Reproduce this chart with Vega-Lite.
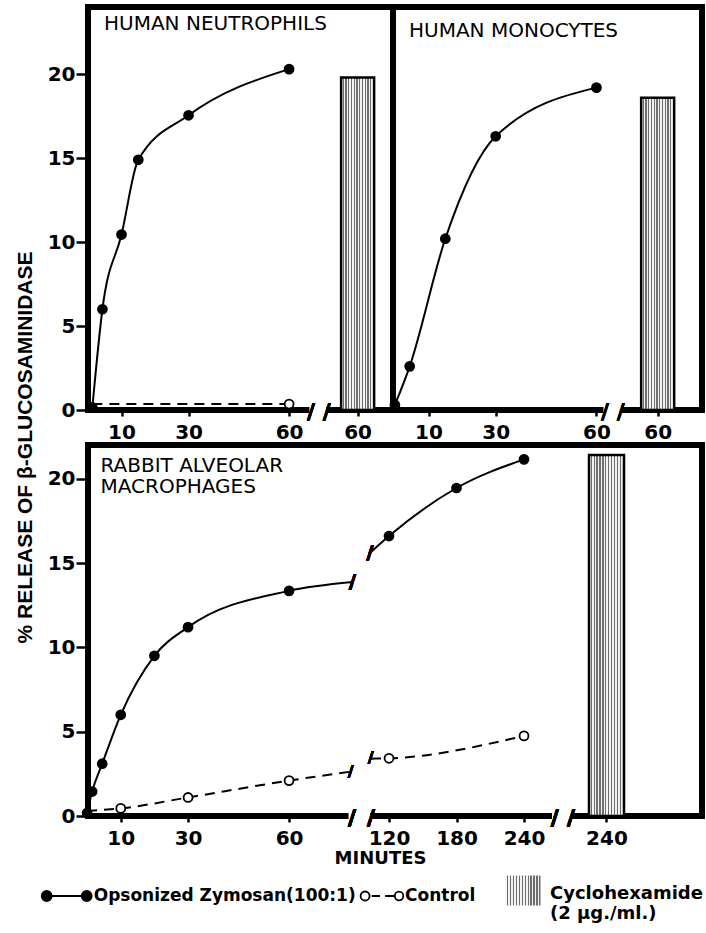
{
  "$schema": "https://vega.github.io/schema/vega-lite/v6.json",
  "padding": {"left": 11, "top": 1, "right": 0, "bottom": 4},
  "config": {
    "font": "DejaVu Sans",
    "view": {"stroke": "black", "strokeWidth": 6},
    "legend": {"symbolBaseFillColor": "white"},
    "axis": {"grid": false, "domain": false, "labelFont": "DejaVu Sans", "labelFontSize": 20, "labelFontWeight": "bold", "labelColor": "black", "tickColor": "black", "tickWidth": 2.5, "tickSize": 6, "labelPadding": 6, "labelFlush": false, "labelOverlap": false, "labelBound": false, "titleColor": "black"},
    "title": {"font": "DejaVu Sans", "fontSize": 20, "fontWeight": "normal", "color": "black", "anchor": "start", "frame": "group"},
    "bar": {"strokeWidth": 2.5, "stroke": "black", "fill": {"gradient": "linear", "x1": 0, "y1": 0, "x2": 1, "y2": 0, "stops": [
      {"offset": 0, "color": "#f2f2f2"}, {"offset": 0.0458, "color": "#f2f2f2"}, {"offset": 0.0458, "color": "#6e6e6e"}, {"offset": 0.0833, "color": "#6e6e6e"},
      {"offset": 0.0833, "color": "#f2f2f2"}, {"offset": 0.1292, "color": "#f2f2f2"}, {"offset": 0.1292, "color": "#6e6e6e"}, {"offset": 0.1667, "color": "#6e6e6e"},
      {"offset": 0.1667, "color": "#f2f2f2"}, {"offset": 0.2125, "color": "#f2f2f2"}, {"offset": 0.2125, "color": "#6e6e6e"}, {"offset": 0.25, "color": "#6e6e6e"},
      {"offset": 0.25, "color": "#f2f2f2"}, {"offset": 0.2958, "color": "#f2f2f2"}, {"offset": 0.2958, "color": "#6e6e6e"}, {"offset": 0.3333, "color": "#6e6e6e"},
      {"offset": 0.3333, "color": "#f2f2f2"}, {"offset": 0.3792, "color": "#f2f2f2"}, {"offset": 0.3792, "color": "#6e6e6e"}, {"offset": 0.4167, "color": "#6e6e6e"},
      {"offset": 0.4167, "color": "#f2f2f2"}, {"offset": 0.4625, "color": "#f2f2f2"}, {"offset": 0.4625, "color": "#6e6e6e"}, {"offset": 0.5, "color": "#6e6e6e"},
      {"offset": 0.5, "color": "#f2f2f2"}, {"offset": 0.5458, "color": "#f2f2f2"}, {"offset": 0.5458, "color": "#6e6e6e"}, {"offset": 0.5833, "color": "#6e6e6e"},
      {"offset": 0.5833, "color": "#f2f2f2"}, {"offset": 0.6292, "color": "#f2f2f2"}, {"offset": 0.6292, "color": "#6e6e6e"}, {"offset": 0.6667, "color": "#6e6e6e"},
      {"offset": 0.6667, "color": "#f2f2f2"}, {"offset": 0.7125, "color": "#f2f2f2"}, {"offset": 0.7125, "color": "#6e6e6e"}, {"offset": 0.75, "color": "#6e6e6e"},
      {"offset": 0.75, "color": "#f2f2f2"}, {"offset": 0.7958, "color": "#f2f2f2"}, {"offset": 0.7958, "color": "#6e6e6e"}, {"offset": 0.8333, "color": "#6e6e6e"},
      {"offset": 0.8333, "color": "#f2f2f2"}, {"offset": 0.8792, "color": "#f2f2f2"}, {"offset": 0.8792, "color": "#6e6e6e"}, {"offset": 0.9167, "color": "#6e6e6e"},
      {"offset": 0.9167, "color": "#f2f2f2"}, {"offset": 0.9625, "color": "#f2f2f2"}, {"offset": 0.9625, "color": "#6e6e6e"}, {"offset": 1, "color": "#6e6e6e"}
    ]}}
  },
  "datasets": {
    "neut": [
      {"treatment": "Opsonized Zymosan(100:1)", "minutes": 1.3, "release": 0.15, "segment": "a", "marker": true},
      {"treatment": "Opsonized Zymosan(100:1)", "minutes": 4.3, "release": 6.0, "segment": "a", "marker": true},
      {"treatment": "Opsonized Zymosan(100:1)", "minutes": 10, "release": 10.45, "segment": "a", "marker": true},
      {"treatment": "Opsonized Zymosan(100:1)", "minutes": 15, "release": 14.9, "segment": "a", "marker": true},
      {"treatment": "Opsonized Zymosan(100:1)", "minutes": 30, "release": 17.55, "segment": "a", "marker": true},
      {"treatment": "Opsonized Zymosan(100:1)", "minutes": 60, "release": 20.3, "segment": "a", "marker": true},
      {"treatment": "Control", "minutes": 1.3, "release": 0.35, "segment": "a", "marker": false},
      {"treatment": "Control", "minutes": 60, "release": 0.35, "segment": "a", "marker": true}
    ],
    "mono": [
      {"treatment": "Opsonized Zymosan(100:1)", "minutes": 0, "release": 0.3, "segment": "a", "marker": true},
      {"treatment": "Opsonized Zymosan(100:1)", "minutes": 4.4, "release": 2.6, "segment": "a", "marker": true},
      {"treatment": "Opsonized Zymosan(100:1)", "minutes": 15, "release": 10.2, "segment": "a", "marker": true},
      {"treatment": "Opsonized Zymosan(100:1)", "minutes": 30, "release": 16.3, "segment": "a", "marker": true},
      {"treatment": "Opsonized Zymosan(100:1)", "minutes": 60, "release": 19.2, "segment": "a", "marker": true}
    ],
    "macro": [
      {"treatment": "Opsonized Zymosan(100:1)", "minutes": 0, "release": 0.18, "segment": "a", "marker": true},
      {"treatment": "Opsonized Zymosan(100:1)", "minutes": 1.5, "release": 1.45, "segment": "a", "marker": true},
      {"treatment": "Opsonized Zymosan(100:1)", "minutes": 4.5, "release": 3.1, "segment": "a", "marker": true},
      {"treatment": "Opsonized Zymosan(100:1)", "minutes": 10, "release": 6.0, "segment": "a", "marker": true},
      {"treatment": "Opsonized Zymosan(100:1)", "minutes": 20, "release": 9.5, "segment": "a", "marker": true},
      {"treatment": "Opsonized Zymosan(100:1)", "minutes": 30, "release": 11.2, "segment": "a", "marker": true},
      {"treatment": "Opsonized Zymosan(100:1)", "minutes": 60, "release": 13.35, "segment": "a", "marker": true},
      {"treatment": "Opsonized Zymosan(100:1)", "minutes": 78.8, "release": 13.87, "segment": "a", "marker": false},
      {"treatment": "Opsonized Zymosan(100:1)", "minutes": 103.1, "release": 15.6, "segment": "b", "marker": false},
      {"treatment": "Opsonized Zymosan(100:1)", "minutes": 120, "release": 16.6, "segment": "b", "marker": true},
      {"treatment": "Opsonized Zymosan(100:1)", "minutes": 180, "release": 19.45, "segment": "b", "marker": true},
      {"treatment": "Opsonized Zymosan(100:1)", "minutes": 240, "release": 21.15, "segment": "b", "marker": true},
      {"treatment": "Control", "minutes": 0, "release": 0.3, "segment": "a", "marker": false},
      {"treatment": "Control", "minutes": 10, "release": 0.45, "segment": "a", "marker": true},
      {"treatment": "Control", "minutes": 30, "release": 1.1, "segment": "a", "marker": true},
      {"treatment": "Control", "minutes": 60, "release": 2.1, "segment": "a", "marker": true},
      {"treatment": "Control", "minutes": 78.3, "release": 2.63, "segment": "a", "marker": false},
      {"treatment": "Control", "minutes": 104, "release": 3.4, "segment": "b", "marker": false},
      {"treatment": "Control", "minutes": 120, "release": 3.42, "segment": "b", "marker": true},
      {"treatment": "Control", "minutes": 240, "release": 4.75, "segment": "b", "marker": true}
    ],
    "cyclo": [
      {"panel": "neut", "treatment": "Cyclohexamide", "minutes": 60, "release": 19.8},
      {"panel": "mono", "treatment": "Cyclohexamide", "minutes": 60, "release": 18.6},
      {"panel": "macro", "treatment": "Cyclohexamide", "minutes": 240, "release": 21.4}
    ]
  },
  "spacing": 35,
  "bounds": "flush",
  "vconcat": [
    {
      "width": 614,
      "height": 403,
      "title": {"text": "HUMAN NEUTROPHILS", "offset": -29.8, "dx": 16},
      "resolve": {"scale": {"x": "independent", "y": "independent"}, "axis": {"x": "independent", "y": "independent"}},
      "layer": [
        {
          "data": {"name": "neut"},
          "layer": [
            {
              "transform": [{"filter": "datum.treatment !== 'Control'"}],
              "mark": {"type": "line", "interpolate": "monotone", "color": "black", "strokeWidth": 2},
              "encoding": {
                "x": {"field": "minutes", "type": "quantitative", "scale": {"domain": [0, 183.19], "nice": false, "zero": false}, "axis": {"values": [10, 30, 60], "title": null, "orient": "bottom"}},
                "y": {"field": "release", "type": "quantitative", "scale": {"domain": [0, 24], "nice": false}, "axis": {"values": [0, 5, 10, 15, 20], "tickSize": 12, "labelPadding": 1, "orient": "left", "title": "% RELEASE OF β-GLUCOSAMINIDASE", "titleFont": "Liberation Sans", "titleFontSize": 21, "titleFontWeight": "bold", "titleAngle": 270, "titleX": -62.5, "titleY": 440, "titleAlign": "center", "titleBaseline": "middle"}},
                "detail": {"field": "segment", "type": "nominal"}
              }
            },
            {
              "transform": [{"filter": "datum.treatment === 'Control'"}],
              "mark": {"type": "line", "interpolate": "monotone", "color": "black", "strokeWidth": 2, "strokeDash": [10, 7]},
              "encoding": {
                "x": {"field": "minutes", "type": "quantitative"},
                "y": {"field": "release", "type": "quantitative"},
                "detail": {"field": "segment", "type": "nominal"}
              }
            },
            {
              "transform": [{"filter": "datum.marker"}],
              "mark": {"type": "point", "shape": "circle", "size": 80, "strokeWidth": 1.8, "opacity": 1},
              "encoding": {
                "x": {"field": "minutes", "type": "quantitative"},
                "y": {"field": "release", "type": "quantitative"},
                "fill": {"field": "treatment", "type": "nominal", "scale": {"domain": ["Opsonized Zymosan(100:1)", "Control"], "range": ["black", "white"]},
                  "legend": {"orient": "none", "legendX": -47.3, "legendY": 863, "values": ["Opsonized Zymosan(100:1)"], "title": null, "symbolType": "M-0.6,0C-0.6,0.11,-0.69,0.2,-0.8,0.2C-0.91,0.2,-1,0.11,-1,0C-1,-0.11,-0.91,-0.2,-0.8,-0.2C-0.69,-0.2,-0.6,-0.11,-0.6,0ZM1,0C1,0.11,0.91,0.2,0.8,0.2C0.69,0.2,0.6,0.11,0.6,0C0.6,-0.11,0.69,-0.2,0.8,-0.2C0.91,-0.2,1,-0.11,1,0ZM-0.6,0L0.6,0", "symbolSize": 2500, "symbolStrokeWidth": 1.8, "symbolStrokeColor": "black", "symbolOpacity": 1, "labelFont": "DejaVu Sans", "labelFontSize": 17, "labelFontWeight": "bold", "labelColor": "black", "labelLimit": 400, "labelOffset": 1, "padding": 0}},
                "stroke": {"field": "treatment", "type": "nominal", "scale": {"domain": ["Control", "Opsonized Zymosan(100:1)"], "range": ["black", "black"]},
                  "legend": {"orient": "none", "legendX": 272, "legendY": 866.5, "values": ["Control"], "title": null, "symbolType": "M-0.6,0C-0.6,0.116,-0.694,0.21,-0.81,0.21C-0.926,0.21,-1.02,0.116,-1.02,0C-1.02,-0.116,-0.926,-0.21,-0.81,-0.21C-0.694,-0.21,-0.6,-0.116,-0.6,0ZM0.97,0C0.97,0.11,0.88,0.2,0.77,0.2C0.66,0.2,0.57,0.11,0.57,0C0.57,-0.11,0.66,-0.2,0.77,-0.2C0.88,-0.2,0.97,-0.11,0.97,0ZM-0.5,0L-0.12,0M0.12,0L0.55,0", "symbolSize": 1849, "symbolStrokeWidth": 1.8, "symbolFillColor": "white", "symbolOpacity": 1, "labelFont": "DejaVu Sans", "labelFontSize": 17, "labelFontWeight": "bold", "labelColor": "black", "labelLimit": 400, "labelOffset": 0, "padding": 0}}
              }
            },
            {"mark": {"type": "rect", "fill": "white"}, "encoding": {"x": {"datum": 66.2}, "x2": {"datum": 71}, "y": {"datum": -0.27}, "y2": {"datum": 0.27}}},
            {"mark": {"type": "text", "text": "/ /", "fontSize": 22, "fontWeight": "bold", "dy": 2}, "encoding": {"x": {"datum": 68.9}, "y": {"datum": 0}}},
            {"mark": {"type": "rule", "strokeWidth": 6, "color": "black"}, "encoding": {"x": {"datum": 91}, "y": {"datum": 0}, "y2": {"datum": 24}}}
          ]
        },
        {
          "data": {"name": "cyclo"},
          "transform": [{"filter": "datum.panel === 'neut'"}],
          "mark": {"type": "bar", "width": 33},
          "encoding": {
            "x": {"field": "minutes", "type": "quantitative", "scale": {"domain": [0, 136.95], "nice": false, "zero": false}, "axis": {"values": [60], "title": null, "orient": "bottom"}},
            "y": {"field": "release", "type": "quantitative", "scale": {"domain": [0, 24], "nice": false}, "axis": null},
            "opacity": {"field": "treatment", "type": "nominal", "scale": {"domain": ["Cyclohexamide"], "range": [1]},
              "legend": {"orient": "none", "legendX": 416, "legendY": 867.5, "title": null, "symbolType": "M-1,-1.03H1V0.69H-1Z", "symbolSize": 1225, "symbolStrokeWidth": 2.5, "symbolStrokeColor": "black", "labelFont": "DejaVu Sans", "labelFontSize": 18, "labelFontWeight": "bold", "labelColor": "black", "labelLimit": 400, "labelOffset": 8, "padding": 0,
                "labelExpr": "['Cyclohexamide', '(2 µg./ml.)']",
                "encode": {
                  "labels": {"dy": {"value": 10}, "lineHeight": {"value": 20}},
                  "symbols": {"stroke": {"value": "black"}, "fill": {"value": {"gradient": "linear", "x1": 0, "y1": 0, "x2": 1, "y2": 0, "stops": [
                    {"offset": 0, "color": "#f2f2f2"}, {"offset": 0.0625, "color": "#f2f2f2"}, {"offset": 0.0625, "color": "#6e6e6e"}, {"offset": 0.1111, "color": "#6e6e6e"},
                    {"offset": 0.1111, "color": "#f2f2f2"}, {"offset": 0.1736, "color": "#f2f2f2"}, {"offset": 0.1736, "color": "#6e6e6e"}, {"offset": 0.2222, "color": "#6e6e6e"},
                    {"offset": 0.2222, "color": "#f2f2f2"}, {"offset": 0.2847, "color": "#f2f2f2"}, {"offset": 0.2847, "color": "#6e6e6e"}, {"offset": 0.3333, "color": "#6e6e6e"},
                    {"offset": 0.3333, "color": "#f2f2f2"}, {"offset": 0.3958, "color": "#f2f2f2"}, {"offset": 0.3958, "color": "#6e6e6e"}, {"offset": 0.4444, "color": "#6e6e6e"},
                    {"offset": 0.4444, "color": "#f2f2f2"}, {"offset": 0.5069, "color": "#f2f2f2"}, {"offset": 0.5069, "color": "#6e6e6e"}, {"offset": 0.5556, "color": "#6e6e6e"},
                    {"offset": 0.5556, "color": "#f2f2f2"}, {"offset": 0.6181, "color": "#f2f2f2"}, {"offset": 0.6181, "color": "#6e6e6e"}, {"offset": 0.6667, "color": "#6e6e6e"},
                    {"offset": 0.6667, "color": "#f2f2f2"}, {"offset": 0.7292, "color": "#f2f2f2"}, {"offset": 0.7292, "color": "#6e6e6e"}, {"offset": 0.7778, "color": "#6e6e6e"},
                    {"offset": 0.7778, "color": "#f2f2f2"}, {"offset": 0.8403, "color": "#f2f2f2"}, {"offset": 0.8403, "color": "#6e6e6e"}, {"offset": 0.8889, "color": "#6e6e6e"},
                    {"offset": 0.8889, "color": "#f2f2f2"}, {"offset": 0.9514, "color": "#f2f2f2"}, {"offset": 0.9514, "color": "#6e6e6e"}, {"offset": 1, "color": "#6e6e6e"}
                  ]}}}
                }
              }
            }
          }
        },
        {
          "data": {"name": "mono"},
          "layer": [
            {
              "mark": {"type": "line", "interpolate": "monotone", "color": "black", "strokeWidth": 2},
              "encoding": {
                "x": {"field": "minutes", "type": "quantitative", "scale": {"domain": [-91.37, 91.42], "nice": false, "zero": false}, "axis": {"values": [10, 30, 60], "title": null, "orient": "bottom"}},
                "y": {"field": "release", "type": "quantitative", "scale": {"domain": [0, 24], "nice": false}, "axis": null},
                "detail": {"field": "segment", "type": "nominal"}
              }
            },
            {
              "transform": [{"filter": "datum.marker"}],
              "mark": {"type": "point", "shape": "circle", "size": 80, "strokeWidth": 1.8, "opacity": 1},
              "encoding": {
                "x": {"field": "minutes", "type": "quantitative"},
                "y": {"field": "release", "type": "quantitative", "axis": null},
                "fill": {"field": "treatment", "type": "nominal"},
                "stroke": {"field": "treatment", "type": "nominal"}
              }
            },
            {"mark": {"type": "rect", "fill": "white"}, "encoding": {"x": {"datum": 62.2}, "x2": {"datum": 67.3}, "y": {"datum": -0.27, "axis": null}, "y2": {"datum": 0.27}}},
            {"mark": {"type": "text", "text": "/ /", "fontSize": 22, "fontWeight": "bold", "dy": 2}, "encoding": {"x": {"datum": 64.9}, "y": {"datum": 0, "axis": null}}},
            {"data": {"values": [{}]}, "mark": {"type": "text", "text": "HUMAN MONOCYTES", "fontSize": 20, "fontWeight": "normal", "align": "left", "baseline": "top", "font": "DejaVu Sans"}, "encoding": {"x": {"datum": 4.19}, "y": {"datum": 23.18, "axis": null}}}
          ]
        },
        {
          "data": {"name": "cyclo"},
          "transform": [{"filter": "datum.panel === 'mono'"}],
          "mark": {"type": "bar", "width": 33},
          "encoding": {
            "x": {"field": "minutes", "type": "quantitative", "scale": {"domain": [0, 64.18], "nice": false, "zero": false}, "axis": {"values": [60], "title": null, "orient": "bottom"}},
            "y": {"field": "release", "type": "quantitative", "scale": {"domain": [0, 24], "nice": false}, "axis": null},
            "opacity": {"field": "treatment", "type": "nominal"}
          }
        }
      ]
    },
    {
      "width": 614,
      "height": 371,
      "title": {"text": ["RABBIT ALVEOLAR", "MACROPHAGES"], "offset": -51.8, "dx": 12.5, "lineHeight": 21},
      "resolve": {"scale": {"x": "independent"}, "axis": {"x": "independent"}},
      "layer": [
        {
          "data": {"name": "macro"},
          "layer": [
            {
              "transform": [{"filter": "datum.treatment !== 'Control'"}],
              "mark": {"type": "line", "interpolate": "monotone", "color": "black", "strokeWidth": 2},
              "encoding": {
                "x": {"field": "minutes", "type": "quantitative", "scale": {"domain": [0.27, 79, 100, 398.2], "range": [0, 265, 278.5, 614], "nice": false, "zero": false}, "axis": {"values": [10, 30, 60, 120, 180, 240], "title": "MINUTES", "titleFont": "DejaVu Sans", "titleFontSize": 18, "titleFontWeight": "bold", "titleX": 292, "titleY": 42, "titleAlign": "center", "titleBaseline": "middle"}},
                "y": {"field": "release", "type": "quantitative", "scale": {"domain": [0, 22], "nice": false}, "axis": {"values": [0, 5, 10, 15, 20], "tickSize": 12, "labelPadding": 1, "title": null}},
                "detail": {"field": "segment", "type": "nominal"}
              }
            },
            {
              "transform": [{"filter": "datum.treatment === 'Control'"}],
              "mark": {"type": "line", "interpolate": "monotone", "color": "black", "strokeWidth": 2, "strokeDash": [10, 7]},
              "encoding": {
                "x": {"field": "minutes", "type": "quantitative"},
                "y": {"field": "release", "type": "quantitative"},
                "detail": {"field": "segment", "type": "nominal"}
              }
            },
            {
              "transform": [{"filter": "datum.marker"}],
              "mark": {"type": "point", "shape": "circle", "size": 80, "strokeWidth": 1.8, "opacity": 1},
              "encoding": {
                "x": {"field": "minutes", "type": "quantitative"},
                "y": {"field": "release", "type": "quantitative"},
                "fill": {"field": "treatment", "type": "nominal"},
                "stroke": {"field": "treatment", "type": "nominal"}
              }
            },
            {"mark": {"type": "rect", "fill": "white"}, "encoding": {"x": {"datum": 77.8}, "x2": {"datum": 103.1}, "y": {"datum": -0.27}, "y2": {"datum": 0.27}}},
            {"mark": {"type": "rect", "fill": "white"}, "encoding": {"x": {"datum": 265.2}, "x2": {"datum": 281.5}, "y": {"datum": -0.27}, "y2": {"datum": 0.27}}},
            {"mark": {"type": "text", "text": "/", "fontSize": 22, "fontWeight": "bold", "dy": 2}, "encoding": {"x": {"datum": 78.7}, "y": {"datum": 0}}},
            {"mark": {"type": "text", "text": "/", "fontSize": 22, "fontWeight": "bold", "dy": 2}, "encoding": {"x": {"datum": 104}, "y": {"datum": 0}}},
            {"mark": {"type": "text", "text": "/", "fontSize": 22, "fontWeight": "bold", "dy": 2}, "encoding": {"x": {"datum": 267.3}, "y": {"datum": 0}}},
            {"mark": {"type": "text", "text": "/", "fontSize": 22, "fontWeight": "bold", "dy": 2}, "encoding": {"x": {"datum": 281.8}, "y": {"datum": 0}}},
            {"mark": {"type": "text", "text": "/", "fontSize": 20, "fontWeight": "bold"}, "encoding": {"x": {"datum": 78.8}, "y": {"datum": 13.87}}},
            {"mark": {"type": "text", "text": "/", "fontSize": 20, "fontWeight": "bold"}, "encoding": {"x": {"datum": 103.1}, "y": {"datum": 15.6}}},
            {"mark": {"type": "text", "text": "/", "fontSize": 16, "fontWeight": "bold"}, "encoding": {"x": {"datum": 78.3}, "y": {"datum": 2.63}}},
            {"mark": {"type": "text", "text": "/", "fontSize": 16, "fontWeight": "bold"}, "encoding": {"x": {"datum": 103.6}, "y": {"datum": 3.44}}}
          ]
        },
        {
          "data": {"name": "cyclo"},
          "transform": [{"filter": "datum.panel === 'macro'"}],
          "mark": {"type": "bar", "width": 35},
          "encoding": {
            "x": {"field": "minutes", "type": "quantitative", "scale": {"domain": [0, 282.3], "nice": false, "zero": false}, "axis": {"values": [240], "title": null, "orient": "bottom"}},
            "y": {"field": "release", "type": "quantitative", "scale": {"domain": [0, 22], "nice": false}},
            "opacity": {"field": "treatment", "type": "nominal"}
          }
        }
      ]
    }
  ]
}
